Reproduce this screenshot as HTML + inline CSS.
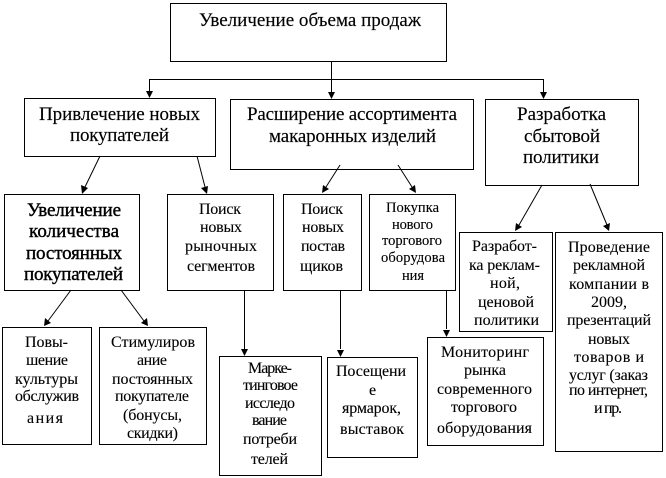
<!DOCTYPE html>
<html><head><meta charset="utf-8"><style>
html,body{margin:0;padding:0;background:#fff}
svg{display:block}
text{font-family:"Liberation Serif","Noto Serif CJK SC",serif;fill:#000;font-size:16px;stroke:#000;stroke-width:.12px}
.b text{font-size:19px;stroke-width:.15px}
.h text{font-size:19px;stroke:#000;stroke-width:.4px}
.s{font-size:14.500px}
rect{fill:#fff;stroke:#000;stroke-width:1}
.l{stroke:#000;stroke-width:1;fill:none}
polygon{fill:#000;stroke:none}
</style></head><body>
<svg width="666" height="478" viewBox="0 0 666 478" xmlns="http://www.w3.org/2000/svg">
<rect x="170.5" y="3.5" width="276" height="58"/>
<rect x="24.5" y="98.5" width="191" height="58"/>
<rect x="230.5" y="99.5" width="243" height="70"/>
<rect x="485.5" y="99.5" width="153" height="86"/>
<rect x="4.5" y="194.5" width="135" height="96"/>
<rect x="167.5" y="194.5" width="106" height="96"/>
<rect x="283.5" y="194.5" width="78" height="96"/>
<rect x="369.5" y="194.5" width="86" height="96"/>
<rect x="459.5" y="232.5" width="93" height="99"/>
<rect x="555.5" y="232.5" width="107" height="219"/>
<rect x="2.5" y="327.5" width="89" height="117"/>
<rect x="99.5" y="327.5" width="107" height="117"/>
<rect x="219.5" y="356.5" width="102" height="119"/>
<rect x="327.5" y="357.5" width="90" height="100"/>
<rect x="427.5" y="337.5" width="116" height="108"/>

<path class="l" d="M331.5 61V92M149.5 92V79.5H543.5V92M100 156L85 187M197 156L205 187M340 165L326 187M398 165L412 187M542 185L519 225M590 184L607 225M71 290L48 321M121 290L144 321M244.5 290V349M340.5 290V349M446.5 290V329"/>
<polygon points="328,92 335,92 331.500,99"/>
<polygon points="146,91 153,91 149.500,98"/>
<polygon points="540,92 547,92 543.500,99"/>
<polygon points="82,194 81,185 88,188"/>
<polygon points="207,194 201,188 208,186"/>
<polygon points="322,193 323,185 329,189"/>
<polygon points="416,193 409,189 415,185"/>
<polygon points="515,231 516,223 522,227"/>
<polygon points="609,231 603,226 610,223"/>
<polygon points="44,326 45,318 51,323"/>
<polygon points="148,326 141,323 147,318"/>
<polygon points="241,349 248,349 244.500,356"/>
<polygon points="337,350 344,350 340.500,357"/>
<polygon points="443,330 450,330 446.500,337"/>

<g class="b">
<text x="199" y="26" textLength="222">Увеличение объема продаж</text>
<text x="39" y="120" textLength="161">Привлечение новых</text>
<text x="70" y="141" textLength="99">покупателей</text>
<text x="247" y="120" textLength="210">Расширение ассортимента</text>
<text x="269" y="142" textLength="167">макаронных изделий</text>
<text x="517" y="120" textLength="89">Разработка</text>
<text x="524" y="142" textLength="76">сбытовой</text>
<text x="523" y="163" textLength="76">политики</text>
</g>
<g class="h">
<text x="27" y="216" textLength="94">Увеличение</text>
<text x="29" y="237" textLength="90">количества</text>
<text x="26" y="259" textLength="96">постоянных</text>
<text x="24" y="280" textLength="99">покупателей</text>
</g>

<text x="199" y="214" textLength="42">Поиск</text>
<text x="200" y="232" textLength="42">новых</text>
<text x="185" y="251" textLength="72">рыночных</text>
<text x="187" y="271" textLength="68">сегментов</text>

<text x="301" y="214" textLength="42">Поиск</text>
<text x="302" y="232" textLength="42">новых</text>
<text x="301" y="251" textLength="44">постав</text>
<text x="300" y="271" textLength="43">щиков</text>

<text class="s" x="386" y="212" textLength="53">Покупка</text>
<text class="s" x="392" y="229" textLength="41">нового</text>
<text class="s" x="382" y="245" textLength="60">торгового</text>
<text class="s" x="381" y="262" textLength="64">оборудова</text>
<text class="s" x="402" y="280" textLength="22">ния</text>

<text x="472" y="251" textLength="65">Разработ-</text>
<text x="469" y="270" textLength="71">ка реклам-</text>
<text x="490" y="288" textLength="30">ной,</text>
<text x="478" y="307" textLength="56">ценовой</text>
<text x="474" y="325" textLength="65">политики</text>

<text x="568" y="252" textLength="82">Проведение</text>
<text x="573" y="270" textLength="72">рекламной</text>
<text x="569" y="289" textLength="80">компании в</text>
<text x="591" y="307" textLength="36">2009,</text>
<text x="567" y="325" textLength="84">презентаций</text>
<text x="588" y="344" textLength="42">новых</text>
<text x="574" y="362" textLength="70">товаров  и</text>
<text x="569" y="380" textLength="79">услуг  (заказ</text>
<text x="569" y="395" textLength="79">по интернет,</text>
<text x="594" y="413" textLength="28">и пр.</text>

<text x="25" y="347" textLength="43">Повы-</text>
<text x="26" y="365" textLength="42">шение</text>
<text x="15" y="384" textLength="63">культуры</text>
<text x="15" y="401" textLength="64">обслужив</text>
<text x="27" y="423" textLength="36">ания</text>

<text x="111" y="347" textLength="84">Стимулиров</text>
<text x="137" y="365" textLength="30">ание</text>
<text x="112" y="384" textLength="81">постоянных</text>
<text x="115" y="401" textLength="74">покупателе</text>
<text x="123" y="420" textLength="59">(бонусы,</text>
<text x="127" y="438" textLength="51">скидки)</text>

<text x="248" y="373" textLength="44">Марке-</text>
<text x="243" y="390" textLength="55">тинговое</text>
<text x="245" y="408" textLength="50">исследо</text>
<text x="252" y="425" textLength="35">вание</text>
<text x="243" y="444" textLength="54">потреби</text>
<text x="251" y="464" textLength="37">телей</text>

<text x="336" y="376" textLength="70">Посещени</text>
<text x="369" y="395" textLength="6">е</text>
<text x="342" y="413" textLength="59">ярмарок,</text>
<text x="340" y="434" textLength="64">выставок</text>

<text x="441" y="357" textLength="88">Мониторинг</text>
<text x="464" y="375" textLength="42">рынка</text>
<text x="437" y="394" textLength="95">современного</text>
<text x="451" y="412" textLength="66">торгового</text>
<text x="437" y="433" textLength="95">оборудования</text>
</svg>
</body></html>
